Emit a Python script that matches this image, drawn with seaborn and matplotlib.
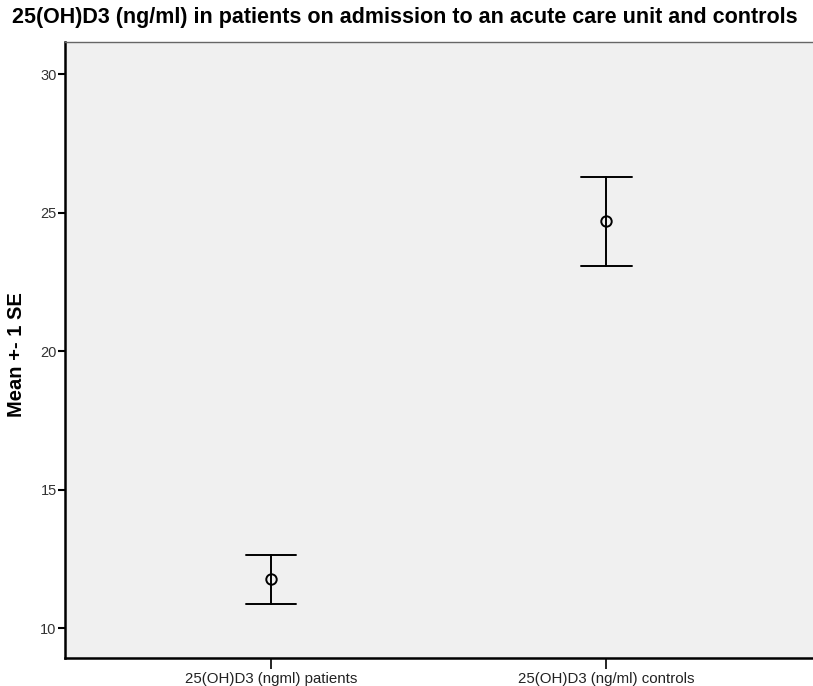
import numpy as np
import pandas as pd
import matplotlib
matplotlib.use("Agg")
import matplotlib.pyplot as plt
import seaborn as sns

# Group means and standard errors of serum 25(OH)D3 (ng/ml)
groups = ["25(OH)D3 (ngml) patients", "25(OH)D3 (ng/ml) controls"]
means = [11.76, 24.68]
std_errors = [0.88, 1.61]
y_ticks = [10, 15, 20, 25, 30]

# Each group is represented by its mean-1SE and mean+1SE bounds, so the
# seaborn estimator (mean) returns the group mean and the interval spans +-1 SE.
rows = []
for g, m, se in zip(groups, means, std_errors):
    rows.append({"group": g, "value": m - se})
    rows.append({"group": g, "value": m + se})
df = pd.DataFrame(rows)

sns.set_style("white")
plt.rcParams["font.family"] = ["Liberation Sans", "DejaVu Sans"]
plt.rcParams["text.color"] = "black"
plt.rcParams["axes.labelcolor"] = "black"

fig = plt.figure(figsize=(8.13, 6.86), dpi=100)
ax = fig.add_axes([65 / 813, 1 - 658 / 686, 1 - 65 / 813 + 0.002, (658 - 42) / 686])
ax.set_facecolor("#f0f0f0")

sns.pointplot(
    data=df, x="group", y="value", order=groups,
    estimator="mean", errorbar=lambda v: (v.min(), v.max()),
    linestyles="none", markers="o", color="black",
    capsize=0.15, err_kws={"linewidth": 1.4},
    markersize=7.5, markerfacecolor="none", markeredgewidth=1.4,
    ax=ax,
)

ax.set_xlim(-0.613, 1.62)
ax.set_ylim(8.92, 31.16)
ax.set_yticks(y_ticks)
ax.set_yticklabels([str(t) for t in y_ticks], fontsize=10.5, color="#333333")
ax.set_xticks([0, 1])
ax.set_xticklabels(groups, fontsize=10.8, color="#222222")
ax.tick_params(axis="y", left=True, direction="out", length=5, width=1.5, color="black", pad=1)
ax.tick_params(axis="x", bottom=True, direction="out", length=8, width=1.2, color="black", pad=2)

for side in ["left", "bottom"]:
    ax.spines[side].set_color("black")
    ax.spines[side].set_linewidth(1.8)
ax.spines["top"].set_color("#666666")
ax.spines["top"].set_linewidth(1.0)
ax.spines["right"].set_visible(False)

ax.set_xlabel("")
ax.set_ylabel("Mean +- 1 SE", fontsize=14.5, fontweight="bold")
ax.yaxis.label.set_verticalalignment("center")
ax.yaxis.set_label_coords(-48 / 748, (658 - 355) / 616)

fig.text(12 / 813, 1 - 18 / 686, "25(OH)D3 (ng/ml) in patients on admission to an acute care unit and controls",
         fontsize=15.5, fontweight="bold", ha="left", va="center")

fig.savefig("out.png", dpi=100, facecolor="white")
